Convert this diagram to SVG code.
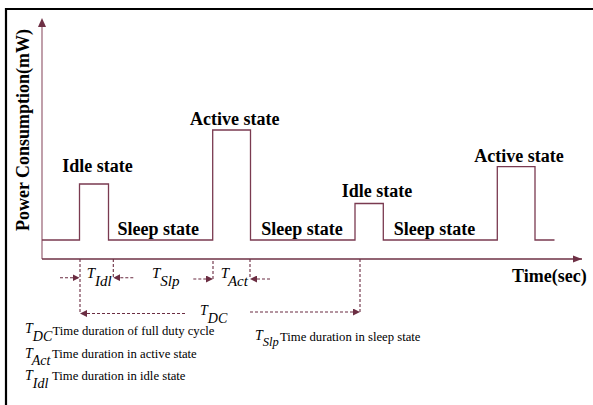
<svg xmlns="http://www.w3.org/2000/svg" width="593" height="405" viewBox="0 0 593 405">
<defs>
<style>
.frame{fill:none;stroke:#000;stroke-width:2.2}
.wave{fill:none;stroke:#7a3a50;stroke-width:1.3}
.yaxis{fill:none;stroke:#a67787;stroke-width:1.4}
.xaxis{fill:none;stroke:#6e3045;stroke-width:1.5}
.dash{fill:none;stroke:#6b2d42;stroke-width:1.1;stroke-dasharray:3,2}
.lbl{font-family:"Liberation Serif",serif;font-weight:bold;font-size:18px;fill:#000}
.sym{font-family:"Liberation Serif",serif;font-style:italic;font-size:14px;fill:#000}
.tl{font-size:15px}
.desc{font-family:"Liberation Serif",serif;font-size:12.7px;fill:#000}
</style>
<marker id="ah" viewBox="0 0 10 10" refX="10" refY="5" markerWidth="7" markerHeight="7" markerUnits="userSpaceOnUse" orient="auto">
<path d="M0,0 L10,5 L0,10 z" fill="#6b2d42"/>
</marker>
<marker id="axh" viewBox="0 0 10 10" refX="10" refY="5" markerWidth="9" markerHeight="9" markerUnits="userSpaceOnUse" orient="auto">
<path d="M0,1 L10,5 L0,9 z" fill="#6e3045"/>
</marker>
</defs>
<rect width="593" height="405" fill="#fff"/>
<path class="frame" d="M6,405 V9 H593"/>
<g id="axes">
<line class="yaxis" x1="42" y1="259" x2="42" y2="27"/>
<path d="M38,27 L42,18 L46,27 z" fill="#6e3045"/>
<line class="xaxis" x1="42" y1="259" x2="582" y2="259" marker-end="url(#axh)"/>
<text class="lbl" transform="translate(29,130) rotate(-90)" text-anchor="middle">Power Consumption(mW)</text>
<text class="lbl" x="512" y="282">Time(sec)</text>
</g>
<g id="waveform">
<path class="wave" d="M42,240 H79.5 V184 H108.5 V240 H212.7 V130 H250.5 V240 H355 V203.5 H383.3 V240 H497.3 V166.7 H535 V240 H554.5"/>
</g>
<g id="idle1"><text class="lbl" x="97.5" y="171.5" text-anchor="middle">Idle state</text></g>
<g id="active1"><text class="lbl" x="234.7" y="125" text-anchor="middle">Active state</text></g>
<g id="idle2"><text class="lbl" x="377" y="197" text-anchor="middle">Idle state</text></g>
<g id="active2"><text class="lbl" x="519" y="161.5" text-anchor="middle">Active state</text></g>
<g id="sleep1"><text class="lbl" x="158.3" y="235" text-anchor="middle">Sleep state</text></g>
<g id="sleep2"><text class="lbl" x="302" y="235" text-anchor="middle">Sleep state</text></g>
<g id="sleep3"><text class="lbl" x="434.5" y="235" text-anchor="middle">Sleep state</text></g>
<g id="connectors">
<line class="dash" x1="60" y1="277.7" x2="79.5" y2="277.7" marker-end="url(#ah)"/>
<polyline class="dash" points="113.3,259 113.3,277.7"/>
<line class="dash" x1="133.3" y1="277.7" x2="113.3" y2="277.7" marker-end="url(#ah)"/>
<polyline class="dash" points="213,279 213,259"/>
<line class="dash" x1="193.3" y1="279" x2="213" y2="279" marker-end="url(#ah)"/>
<polyline class="dash" points="250,259 250,279"/>
<line class="dash" x1="270" y1="279" x2="250" y2="279" marker-end="url(#ah)"/>
<polyline class="dash" points="80,259 80,313.5"/>
<line class="dash" x1="185" y1="313.5" x2="80" y2="313.5" marker-end="url(#ah)"/>
<polyline class="dash" points="360,259 360,312"/>
<line class="dash" x1="250" y1="312" x2="360" y2="312" marker-end="url(#ah)"/>
</g>
<g id="timeline-labels">
<text class="sym tl" x="86.7" y="277.5">T<tspan dy="8">Idl</tspan></text>
<text class="sym tl" x="152" y="277.5">T<tspan dy="8">Slp</tspan></text>
<text class="sym tl" x="220.7" y="278">T<tspan dy="8">Act</tspan></text>
<text class="sym" x="200" y="315" font-size="16">T<tspan dy="8">DC</tspan></text>
</g>
<g id="legend">
<text class="sym" x="25" y="333.3">T<tspan dy="7.5">DC</tspan></text>
<text class="desc" x="52.5" y="335">Time duration of full duty cycle</text>
<text class="sym" x="25" y="357.5">T<tspan dy="7.5">Act</tspan></text>
<text class="desc" x="52" y="357.7">Time duration in active state</text>
<text class="sym" x="25" y="380">T<tspan dy="7.5">Idl</tspan></text>
<text class="desc" x="52" y="380">Time duration in idle state</text>
<text class="sym" x="255" y="340">T<tspan dy="6" font-size="12.5">Slp</tspan></text>
<text class="desc" x="280" y="340.7">Time duration in sleep state</text>
</g>
</svg>
